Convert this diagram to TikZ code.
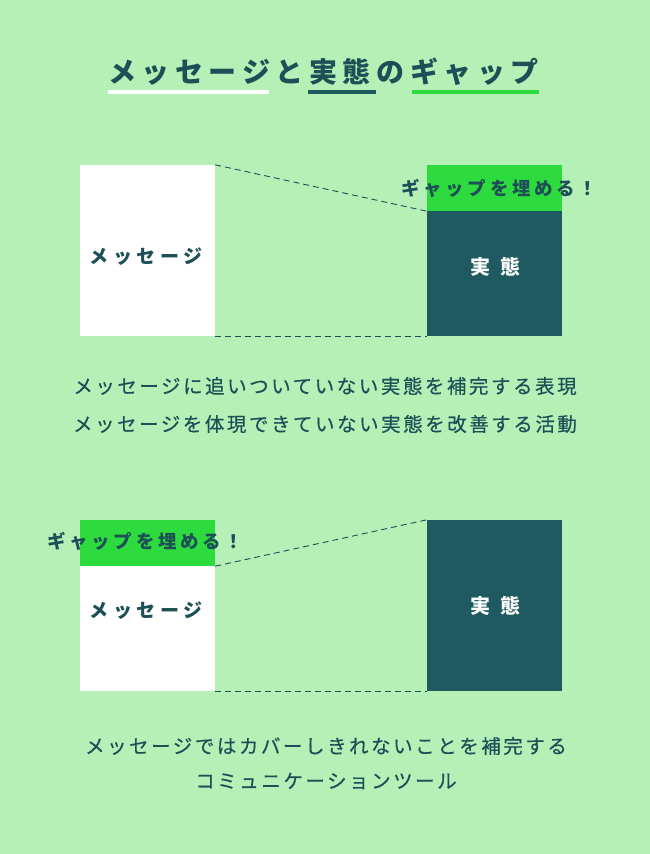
\documentclass[tikz,border=0pt]{standalone}
\usepackage{fontspec}
\setmainfont{Noto Sans CJK JP}
\definecolor{bg}{HTML}{B5F1B7}
\definecolor{dark}{HTML}{1E5A60}
\definecolor{ink}{HTML}{1D4F56}
\definecolor{gapg}{HTML}{2EDB3E}
\tikzset{
  titletxt/.style={text=ink, font=\fontsize{28}{30}\selectfont\bfseries\addfontfeatures{LetterSpace=20}, inner sep=0},
  lbltxt/.style={text=ink, font=\fontsize{18.5}{20}\selectfont\bfseries\addfontfeatures{LetterSpace=20}, inner sep=0},
  msglbl/.style={text=ink, font=\fontsize{19}{20}\selectfont\bfseries\addfontfeatures{LetterSpace=24}, inner sep=0},
  reallbl/.style={text=white, font=\fontsize{20}{22}\selectfont\bfseries, inner sep=0},
  bodytxt/.style={text=ink, font=\fontsize{19.5}{21}\selectfont\addfontfeatures{LetterSpace=13,FakeBold=0.4}, inner sep=0},
  msgbox/.style={fill=white, draw=none, minimum width=135, minimum height=171, inner sep=0},
  realbox/.style={fill=dark, draw=none, minimum width=135, minimum height=171, inner sep=0},
  gapbox/.style={fill=gapg, draw=none, minimum width=135, minimum height=46, inner sep=0},
  conn/.style={draw=ink, dash pattern=on 6pt off 4pt, line width=0.9pt},
  uline/.style={line width=3.5pt}
}
\begin{document}
\begin{tikzpicture}[x=1pt,y=-1pt]
\fill[bg] (0,0) rectangle (650,854);
\useasboundingbox (0,0) rectangle (650,854);
% title
\node[titletxt, anchor=west] (title) at (108,72) {メッセージと実態のギャップ};
\coordinate (u1a) at (108,92); \coordinate (u1b) at (269,92);
\coordinate (u2a) at (308,92); \coordinate (u2b) at (376,92);
\coordinate (u3a) at (412,92); \coordinate (u3b) at (539,92);
\draw[uline, white] (u1a) -- (u1b);
\draw[uline, dark] (u2a) -- (u2b);
\draw[uline, gapg] (u3a) -- (u3b);
% top diagram
\node[msgbox] (m1) at (147.5,250.5) {};
\node[realbox] (r1) at (494.5,250.5) {};
\node[gapbox] (g1) at (494.5,188) {};
\node[msglbl] (m1t) at (146,257) {メッセージ};
\node[reallbl] (r1t) at (495,267) {実\hspace{10pt}態};
\node[lbltxt, anchor=west] (g1t) at (401,188) {ギャップを埋める！};
\draw[conn] (m1.north east) -- (g1.south west);
\draw[conn] (m1.south east) -- (r1.south west);
\node[bodytxt] (t1) at (325,386) {メッセージに追いついていない実態を補完する表現};
\node[bodytxt] (t2) at (325,424) {メッセージを体現できていない実態を改善する活動};
% bottom diagram
\node[msgbox] (m2) at (147.5,605.5) {};
\node[gapbox] (g2) at (147.5,543) {};
\node[realbox] (r2) at (494.5,605.5) {};
\node[msglbl] (m2t) at (146,611) {メッセージ};
\node[reallbl] (r2t) at (495,606) {実\hspace{10pt}態};
\node[lbltxt, anchor=west] (g2t) at (47,541) {ギャップを埋める！};
\draw[conn] (g2.south east) -- (r2.north west);
\draw[conn] (m2.south east) -- (r2.south west);
\node[bodytxt] (t3) at (326,746) {メッセージではカバーしきれないことを補完する};
\node[bodytxt] (t4) at (326,781) {コミュニケーションツール};
\end{tikzpicture}
\end{document}
